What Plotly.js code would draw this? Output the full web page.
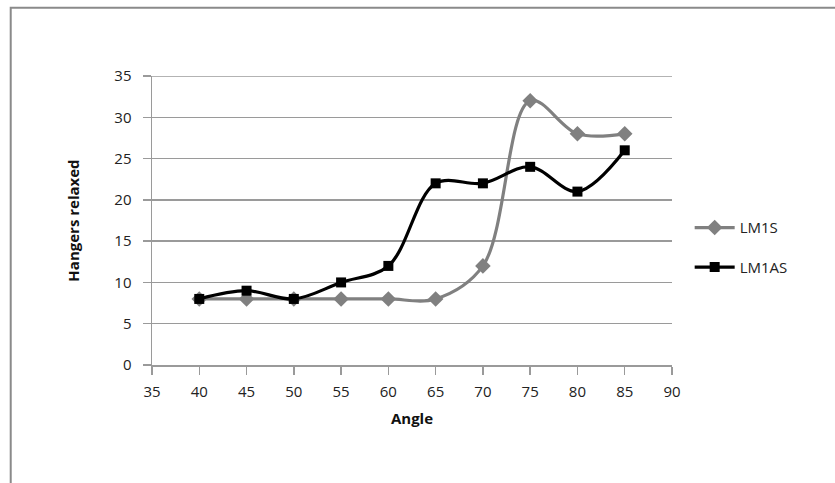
<!DOCTYPE html>
<html>
<head>
<meta charset="utf-8">
<script src="https://cdn.plot.ly/plotly-3.0.1.min.js"></script>
<style>
  html, body { margin: 0; padding: 0; background: #fff; }
  #chart { width: 835px; height: 483px; }
</style>
</head>
<body>
<div id="chart"></div>
<script>
// Angle (degrees) at which each count was taken
const angles = [40, 45, 50, 55, 60, 65, 70, 75, 80, 85];
// Number of hangers relaxed per series
const lm1s  = [8, 8, 8, 8, 8, 8, 12, 32, 28, 28];
const lm1as = [8, 9, 8, 10, 12, 22, 22, 24, 21, 26];
const xTicks = [35, 40, 45, 50, 55, 60, 65, 70, 75, 80, 85, 90];
const yTicks = [0, 5, 10, 15, 20, 25, 30, 35];

const FONT = 'Open Sans, Liberation Sans, sans-serif';
const W = 835, H = 483;
const L = 151.5, R = 162.7, T = 75.7, B = 118.3;
const pw = W - L - R, ph = H - T - B;
// convert pixel positions to paper coordinates for the frame and legend
const px = x => (x - L) / pw;
const py = y => (H - B - y) / ph;

const GRID = '#9a9a9a';

const traces = [
  {
    x: angles, y: lm1s, name: 'LM1S', type: 'scatter', mode: 'lines+markers',
    legendgroup: 'a',
    line: { color: '#808080', width: 3.2, shape: 'spline', smoothing: 1 },
    marker: { symbol: 'diamond', size: 12, color: '#808080' }
  },
  {
    x: angles, y: lm1as, name: 'LM1AS', type: 'scatter', mode: 'lines+markers',
    legendgroup: 'b',
    line: { color: '#000000', width: 3.2, shape: 'spline', smoothing: 1 },
    marker: { symbol: 'square', size: 10, color: '#000000' }
  }
];

const yTop = yTicks[yTicks.length - 1];

const layout = {
  width: W, height: H,
  margin: { l: L, r: R, t: T, b: B, pad: 0 },
  paper_bgcolor: '#ffffff', plot_bgcolor: '#ffffff',
  font: { family: FONT, size: 14, color: '#222' },
  showlegend: true,
  legend: {
    x: px(690), y: py(247), xanchor: 'left', yanchor: 'middle',
    traceorder: 'grouped', tracegroupgap: 17, itemwidth: 40,
    font: { family: FONT, size: 15, color: '#222' },
    bgcolor: 'rgba(0,0,0,0)'
  },
  xaxis: {
    range: [35, 90], tickvals: xTicks, ticktext: xTicks.map(String),
    showgrid: false, zeroline: false,
    showline: true, linecolor: GRID, linewidth: 1.5,
    ticks: 'outside', ticklen: 8, tickcolor: GRID, tickwidth: 1.5,
    ticklabelstandoff: 4,
    tickfont: { family: FONT, size: 15, color: '#222' },
    title: { text: '<b>Angle</b>', font: { family: FONT, size: 15, color: '#111' }, standoff: 14 },
    fixedrange: true
  },
  yaxis: {
    range: [0, 35], tickvals: yTicks, ticktext: yTicks.map(String),
    showgrid: true, gridcolor: GRID, gridwidth: 1.5, zeroline: false,
    showline: true, linecolor: GRID, linewidth: 1.5,
    ticks: 'outside', ticklen: 8, tickcolor: GRID, tickwidth: 1.5,
    ticklabelstandoff: 8,
    tickfont: { family: FONT, size: 15, color: '#222' },
    title: { text: '<b>Hangers relaxed</b>', font: { family: FONT, size: 15, color: '#111' }, standoff: 31 },
    fixedrange: true
  },
  shapes: [
    // top gridline sits on the plot edge, so draw it explicitly
    {
      type: 'line', xref: 'paper', yref: 'y', x0: 0, x1: 1, y0: yTop, y1: yTop,
      line: { color: GRID, width: 1.5 }, layer: 'below'
    },
    // outer chart frame
    {
      type: 'rect', xref: 'paper', yref: 'paper',
      x0: px(10), x1: px(900), y0: py(560), y1: py(7.5),
      line: { color: '#8a8a8a', width: 2 }, fillcolor: 'rgba(0,0,0,0)', layer: 'below'
    }
  ]
};

Plotly.newPlot('chart', traces, layout, { displayModeBar: false, staticPlot: true });
</script>
</body>
</html>
